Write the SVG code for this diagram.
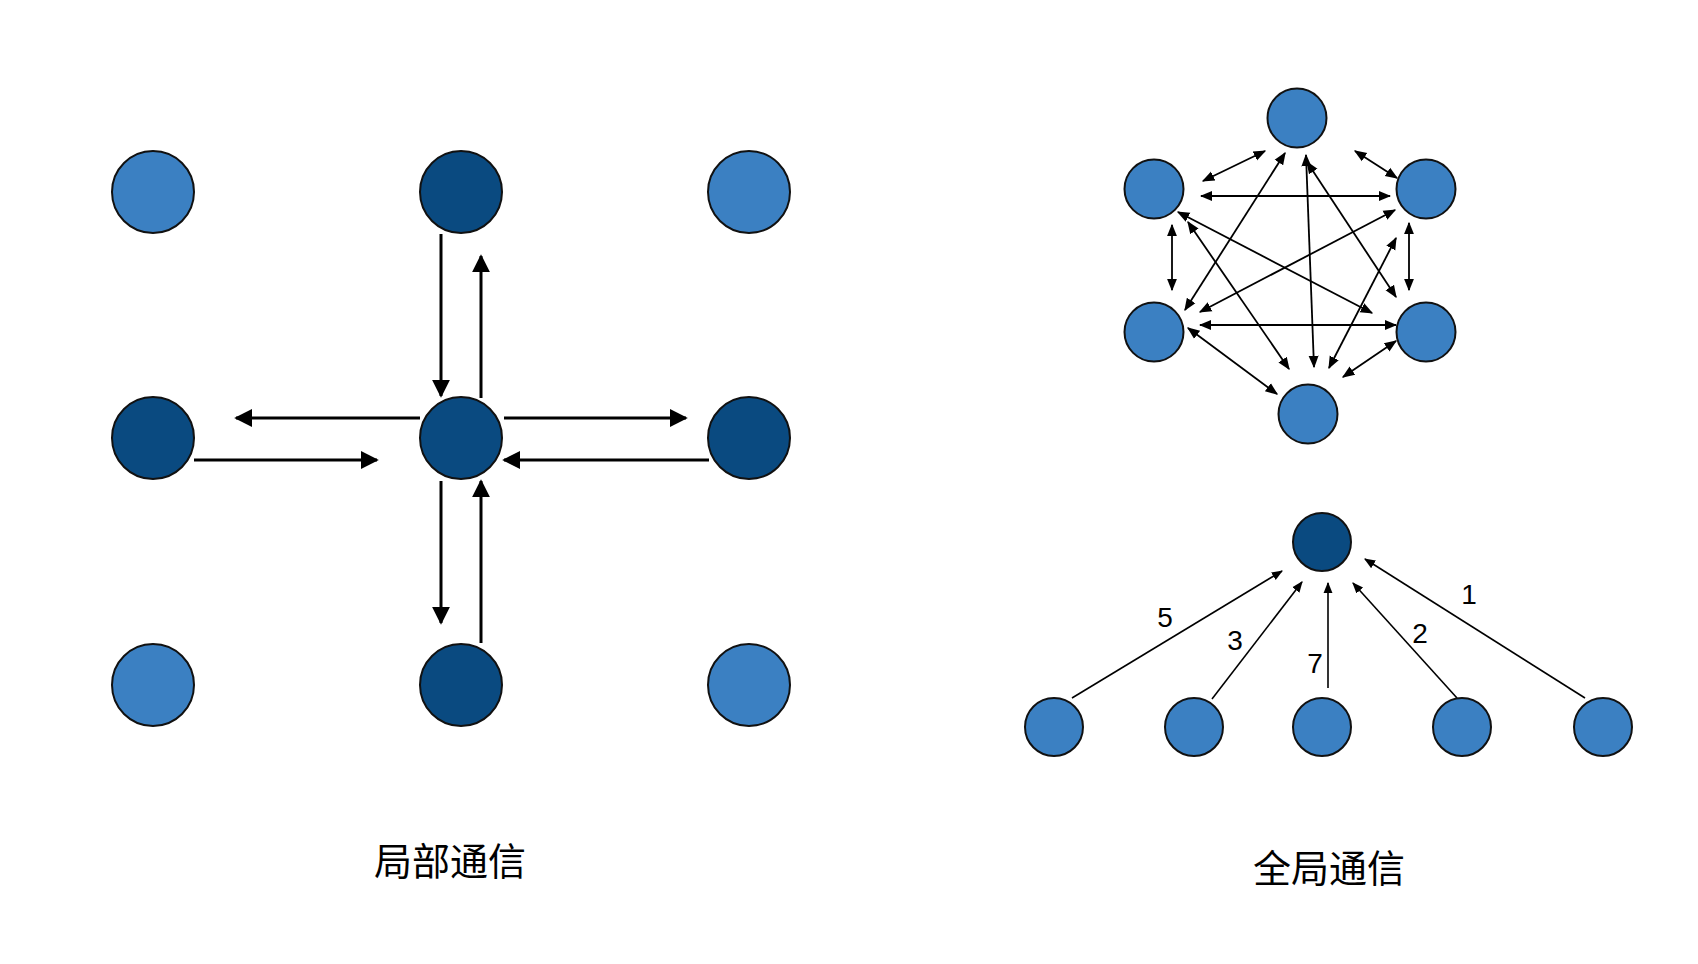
<svg xmlns="http://www.w3.org/2000/svg" width="1698" height="964" viewBox="0 0 1698 964">
<style>
.l{fill:#3b80c2;stroke:#111;stroke-width:2}
.d{fill:#0a4a80;stroke:#111;stroke-width:2}
.a{stroke:#000;stroke-width:3;fill:none;marker-end:url(#big)}
.h{stroke:#000;stroke-width:1.8;fill:none;marker-end:url(#sm);marker-start:url(#sms)}
.t{stroke:#000;stroke-width:1.6;fill:none;marker-end:url(#sm)}
.lab{font-family:"Liberation Sans","Noto Sans CJK SC",sans-serif;font-size:38px;text-anchor:middle;fill:#000}
.num{font-family:"Liberation Sans",sans-serif;font-size:28px;text-anchor:middle;fill:#000}
</style>
<defs>
<marker id="big" viewBox="0 0 10 10" refX="9" refY="5" markerWidth="6" markerHeight="6" orient="auto" markerUnits="strokeWidth"><path d="M0,0L10,5L0,10z"/></marker>
<marker id="sm" viewBox="0 0 10 10" refX="9" refY="5" markerWidth="7" markerHeight="7" orient="auto" markerUnits="strokeWidth"><path d="M0,1L10,5L0,9z"/></marker>
<marker id="sms" viewBox="0 0 10 10" refX="1" refY="5" markerWidth="7" markerHeight="7" orient="auto" markerUnits="strokeWidth"><path d="M10,1L0,5L10,9z"/></marker>
</defs>
<g id="connectors">
<line class="a" x1="441" y1="234" x2="441" y2="396"/>
<line class="a" x1="481" y1="398" x2="481" y2="256"/>
<line class="a" x1="420" y1="418" x2="236" y2="418"/>
<line class="a" x1="194" y1="460" x2="377" y2="460"/>
<line class="a" x1="504" y1="418" x2="686" y2="418"/>
<line class="a" x1="709" y1="460" x2="504" y2="460"/>
<line class="a" x1="441" y1="481" x2="441" y2="623"/>
<line class="a" x1="481" y1="643" x2="481" y2="481"/>
<!-- hexagon complete graph -->
<line class="h" x1="1203" y1="181" x2="1265" y2="151"/>
<line class="h" x1="1355" y1="151" x2="1397" y2="178"/>
<line class="h" x1="1201" y1="196" x2="1390" y2="196"/>
<line class="h" x1="1285" y1="153" x2="1185" y2="310"/>
<line class="h" x1="1306" y1="155" x2="1314" y2="367"/>
<line class="h" x1="1188" y1="222" x2="1289" y2="369"/>
<line class="h" x1="1178" y1="212" x2="1372" y2="313"/>
<line class="h" x1="1172" y1="225" x2="1172" y2="290"/>
<line class="h" x1="1395" y1="210" x2="1200" y2="312"/>
<line class="h" x1="1307" y1="162" x2="1396" y2="297"/>
<line class="h" x1="1409" y1="223" x2="1409" y2="290"/>
<line class="h" x1="1396" y1="238" x2="1329" y2="368"/>
<line class="h" x1="1200" y1="325" x2="1396" y2="325"/>
<line class="h" x1="1188" y1="328" x2="1277" y2="394"/>
<line class="h" x1="1343" y1="377" x2="1396" y2="341"/>
<!-- tree -->
<line class="t" x1="1072" y1="698" x2="1282" y2="571"/>
<line class="t" x1="1212" y1="699" x2="1302" y2="582"/>
<line class="t" x1="1328" y1="688" x2="1328" y2="583"/>
<line class="t" x1="1457" y1="698" x2="1353" y2="583"/>
<line class="t" x1="1585" y1="698" x2="1365" y2="559"/>
</g>
<g id="n1"><circle class="l" cx="153" cy="192" r="41"/></g>
<g id="n2"><circle class="d" cx="461" cy="192" r="41"/></g>
<g id="n3"><circle class="l" cx="749" cy="192" r="41"/></g>
<g id="n4"><circle class="d" cx="153" cy="438" r="41"/></g>
<g id="n5"><circle class="d" cx="461" cy="438" r="41"/></g>
<g id="n6"><circle class="d" cx="749" cy="438" r="41"/></g>
<g id="n7"><circle class="l" cx="153" cy="685" r="41"/></g>
<g id="n8"><circle class="d" cx="461" cy="685" r="41"/></g>
<g id="n9"><circle class="l" cx="749" cy="685" r="41"/></g>
<g id="h1"><circle class="l" cx="1297" cy="118" r="29.5"/></g>
<g id="h2"><circle class="l" cx="1154" cy="189" r="29.5"/></g>
<g id="h3"><circle class="l" cx="1426" cy="189" r="29.5"/></g>
<g id="h4"><circle class="l" cx="1154" cy="332" r="29.5"/></g>
<g id="h5"><circle class="l" cx="1426" cy="332" r="29.5"/></g>
<g id="h6"><circle class="l" cx="1308" cy="414" r="29.5"/></g>
<g id="t0"><circle class="d" cx="1322" cy="542" r="29"/></g>
<g id="t1"><circle class="l" cx="1054" cy="727" r="29"/></g>
<g id="t2"><circle class="l" cx="1194" cy="727" r="29"/></g>
<g id="t3"><circle class="l" cx="1322" cy="727" r="29"/></g>
<g id="t4"><circle class="l" cx="1462" cy="727" r="29"/></g>
<g id="t5"><circle class="l" cx="1603" cy="727" r="29"/></g>
<text class="num" x="1165" y="627">5</text>
<text class="num" x="1235" y="650">3</text>
<text class="num" x="1315" y="673">7</text>
<text class="num" x="1420" y="643">2</text>
<text class="num" x="1469" y="604">1</text>
<text class="lab" x="450" y="875">局部通信</text>
<text class="lab" x="1329" y="882">全局通信</text>
</svg>
